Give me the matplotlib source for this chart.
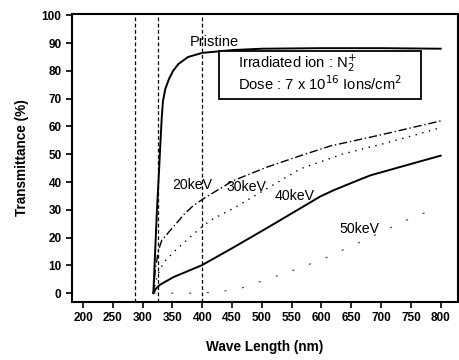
import matplotlib
matplotlib.use("Agg")
import matplotlib.pyplot as plt
from matplotlib.patches import Rectangle

plt.rcParams['font.family'] = ['Liberation Sans', 'DejaVu Sans']

# wavelength (nm) / transmittance (%)
pristine_x = [318, 321, 324, 327, 330, 332, 334, 338, 344, 351, 360, 376, 400, 450, 500, 600, 700, 800]
pristine_y = [0, 15, 30, 42, 55, 63, 69, 73.5, 77, 80, 82.5, 85, 86.5, 87.5, 88, 88.2, 88.2, 88]

kev20_x = [318, 321, 326, 332, 340, 352, 370, 385, 402, 452, 509, 565, 615, 700, 750, 800]
kev20_y = [0, 8, 15, 19, 21, 24, 28.5, 31.5, 34, 40.5, 45.4, 49.5, 53, 57, 59.5, 62]

kev30_x = [318, 324, 335, 357, 382, 400, 416, 453, 509, 565, 615, 634, 702, 750, 800]
kev30_y = [0, 6, 11, 15.8, 20.6, 24, 26.5, 30.6, 37.7, 44.8, 48.5, 50, 53.7, 56.5, 59.6]

kev40_x = [318, 322, 329, 352, 399, 452, 509, 565, 598, 621, 654, 682, 750, 800]
kev40_y = [0, 1.5, 3, 5.8, 10, 16.4, 23.5, 30.6, 34.8, 37.1, 40, 42.4, 46.5, 49.5]

kev50_x = [318, 350, 400, 447, 467, 550, 600, 671, 746, 763, 797]
kev50_y = [0, 0, 0, 1, 1.9, 8, 12, 19, 26.6, 28, 31]

vlines = [287, 325, 400]

x_ticks = list(range(200, 801, 50))
y_ticks = list(range(0, 101, 10))

fig = plt.figure(figsize=(4.6, 3.6), dpi=100)
ax = fig.add_axes([72/460, 1 - 302/360, 386/460, 288/360])

for v in vlines:
    ax.axvline(v, color='black', lw=0.9, linestyle=(0, (3, 2)))

ax.plot(pristine_x, pristine_y, color='black', lw=1.4)
ax.plot(kev20_x, kev20_y, color='black', lw=1.0, linestyle=(0, (6, 2, 1, 2)))
ax.plot(kev30_x, kev30_y, color='black', lw=1.0, linestyle=(0, (1, 4)))
ax.plot(kev40_x, kev40_y, color='black', lw=1.4)
ax.plot(kev50_x, kev50_y, color='#444444', lw=0.8, linestyle=(0, (2, 14)))

ax.set_xlim(181.5, 829)
ax.set_ylim(-3.2, 100.5)
ax.set_xticks(x_ticks)
ax.set_yticks(y_ticks)
ax.tick_params(direction='out', length=4, width=1.2, labelsize=8.5)
for lab in ax.get_xticklabels() + ax.get_yticklabels():
    lab.set_fontweight('bold')
for sp in ax.spines.values():
    sp.set_linewidth(1.5)

ax.set_xlabel('Wave Length (nm)', fontsize=9.8, fontweight='bold', labelpad=11)
ax.set_ylabel('Transmittance (%)', fontsize=9.8, fontweight='bold', labelpad=9)

# curve labels
ax.text(420, 90.4, 'Pristine', fontsize=10.5, ha='center', va='center')
ax.text(383, 39, '20keV', fontsize=10.2, ha='center', va='center')
ax.text(474, 38.3, '30keV', fontsize=10.2, ha='center', va='center')
ax.text(555, 35, '40keV', fontsize=10.2, ha='center', va='center')
ax.text(664, 23, '50keV', fontsize=10.2, ha='center', va='center')

# info box
ax.add_patch(Rectangle((0.381, 0.705), 0.523, 0.167, transform=ax.transAxes,
                       fill=True, facecolor='white', edgecolor='black', lw=1.3, zorder=5))
ax.text(0.43, 0.828, r'Irradiated ion : N$_2^{+}$', transform=ax.transAxes,
        fontsize=10.6, ha='left', va='center', zorder=6)
ax.text(0.43, 0.757, r'Dose : 7 x 10$^{16}$ Ions/cm$^{2}$', transform=ax.transAxes,
        fontsize=10.6, ha='left', va='center', zorder=6)

fig.savefig('out.png', dpi=100)
